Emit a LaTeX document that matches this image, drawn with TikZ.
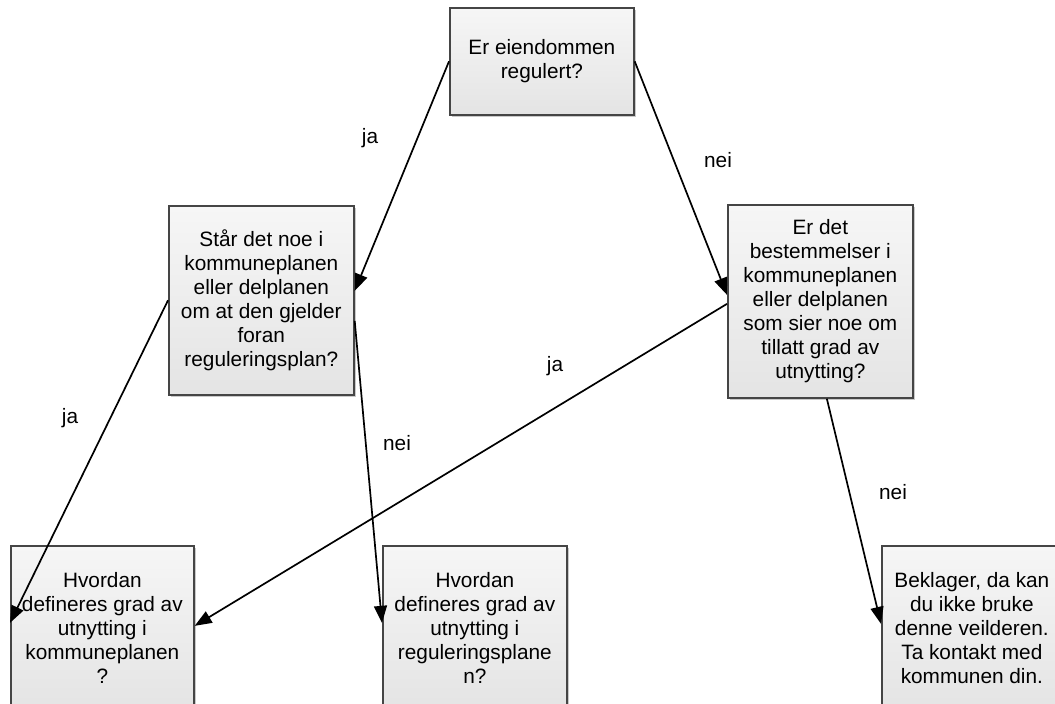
\documentclass[tikz,border=0pt]{standalone}
\usepackage{fontspec}
\setmainfont{Liberation Sans}
\usetikzlibrary{arrows.meta,shadows,calc}
\definecolor{boxborder}{HTML}{454545}
\definecolor{boxtop}{HTML}{F6F6F6}
\definecolor{boxbot}{HTML}{E4E4E4}
\tikzset{
  qbox/.style={draw=boxborder, line width=1.7pt, top color=boxtop, bottom color=boxbot,
    drop shadow={shadow xshift=2.5pt, shadow yshift=-2.5pt, opacity=0.35, fill=black!60},
    align=center, inner sep=0pt, anchor=north west,
    font=\fontsize{20.8}{24}\selectfont},
  conn/.style={line width=1.7pt, black, -{Triangle[length=17pt,width=13pt]}},
  lbl/.style={font=\fontsize{20.8}{24}\selectfont, inner sep=0pt}
}
\begin{document}
\begin{tikzpicture}[x=1pt,y=-1pt]
\useasboundingbox (0,0) rectangle (1055,704);
\fill[white] (0,0) rectangle (1055,704);
\clip (0,0) rectangle (1055,704);
\node[qbox, minimum width=184pt, minimum height=107pt] (top) at (449,7)
  {Er eiendommen\\regulert?};
\node[qbox, minimum width=185pt, minimum height=189pt] (star) at (168,205)
  {Står det noe i\\kommuneplanen\\eller delplanen\\om at den gjelder\\foran\\reguleringsplan?};
\node[qbox, minimum width=185pt, minimum height=193pt] (erdet) at (727,204)
  {Er det\\bestemmelser i\\kommuneplanen\\eller delplanen\\som sier noe om\\tillatt grad av\\utnytting?};
\node[qbox, minimum width=183pt, minimum height=165pt] (bl) at (10,545)
  {Hvordan\\defineres grad av\\utnytting i\\kommuneplanen\\?};
\node[qbox, minimum width=184pt, minimum height=165pt] (bm) at (382,545)
  {Hvordan\\defineres grad av\\utnytting i\\reguleringsplane\\n?};
\node[qbox, minimum width=180pt, minimum height=165pt] (br) at (881,545)
  {Beklager, da kan\\du ikke bruke\\denne veilderen.\\Ta kontakt med\\kommunen din.};

\draw[conn] (top.west) -- ([yshift=9.5pt]star.east);
\draw[conn] (top.east) -- ([yshift=6.5pt]erdet.west);
\draw[conn] (star.west) -- ([yshift=5.5pt]bl.west);
\draw[conn] ([yshift=-20.5pt]star.east) -- ([yshift=5.5pt]bm.west);
\draw[conn] ([yshift=-2.5pt]erdet.west) -- ([yshift=2.5pt]bl.east);
\draw[conn] ([xshift=6.5pt]erdet.south) -- ([yshift=4.5pt]br.west);

\node[lbl] (l1) at (370,138) {ja};
\node[lbl] (l2) at (718,160) {nei};
\node[lbl] (l3) at (70,418) {ja};
\node[lbl] (l4) at (397,443) {nei};
\node[lbl] (l5) at (555,366) {ja};
\node[lbl] (l6) at (893,492) {nei};
\end{tikzpicture}
\end{document}
